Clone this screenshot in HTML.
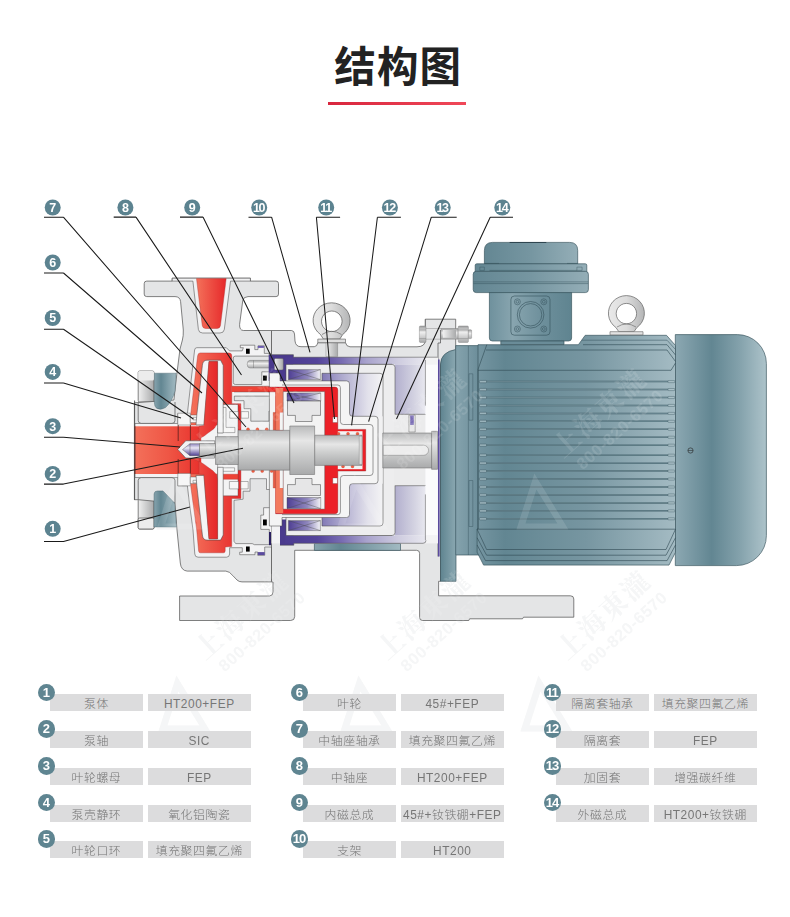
<!DOCTYPE html>
<html lang="zh-CN">
<head>
<meta charset="utf-8">
<title>结构图</title>
<style>
html,body{margin:0;padding:0;background:#fff;}
body{width:790px;height:917px;position:relative;overflow:hidden;font-family:"Liberation Sans","Noto Sans CJK SC",sans-serif;}
.title{position:absolute;left:0;top:36.5px;width:796.5px;text-align:center;font-size:41.5px;line-height:62px;font-weight:700;color:#222;letter-spacing:1.2px;}
.rule{position:absolute;left:328px;top:102px;width:138px;height:3px;background:linear-gradient(90deg,#d8263e,#f04858);}
#dg{position:absolute;left:0;top:0;}
.tb{position:absolute;left:0;top:0;}
.row{position:absolute;height:17px;}
.n{position:absolute;width:17.6px;height:17.6px;border-radius:50%;background:#5f8591;color:#fff;font-size:13px;font-weight:700;line-height:17.6px;text-align:center;left:-12px;top:-10.8px;z-index:2;letter-spacing:-1px;text-indent:-1px}
.c{position:absolute;top:0;height:17px;background:#dcdcdd;color:#767676;font-weight:300;font-size:11.9px;line-height:21.2px;text-align:center;letter-spacing:0.55px;overflow:hidden;white-space:nowrap;}
.c1{left:0;width:93.5px;}
.c2{left:98px;width:103.2px;}
</style>
</head>
<body>
<div class="title">结构图</div>
<div class="rule"></div>
<svg id="dg" width="790" height="917" viewBox="0 0 790 917">
<defs>
<linearGradient id="gTealBody" x1="0" x2="1" y1="0" y2="0">
 <stop offset="0" stop-color="#7595a1"/><stop offset="0.14" stop-color="#628692"/><stop offset="0.55" stop-color="#7796a1"/><stop offset="1" stop-color="#a4bbc3"/>
</linearGradient>
<linearGradient id="gTealFan" x1="0" x2="1" y1="0" y2="0">
 <stop offset="0" stop-color="#8ca8b2"/><stop offset="0.4" stop-color="#628692"/><stop offset="0.7" stop-color="#83a1ab"/><stop offset="1" stop-color="#adc3ca"/>
</linearGradient>
<linearGradient id="gTealBox" x1="0" x2="1" y1="0" y2="0">
 <stop offset="0" stop-color="#6f919d"/><stop offset="0.28" stop-color="#88a5af"/><stop offset="0.65" stop-color="#6d8f9b"/><stop offset="1" stop-color="#5f8490"/>
</linearGradient>
<linearGradient id="gTealCap" x1="0" x2="1" y1="0" y2="0">
 <stop offset="0" stop-color="#648793"/><stop offset="0.5" stop-color="#7696a1"/><stop offset="1" stop-color="#94aeb7"/>
</linearGradient>
<linearGradient id="gTealFl" x1="0" x2="1" y1="0" y2="0">
 <stop offset="0" stop-color="#5f8490"/><stop offset="0.35" stop-color="#86a4ae"/><stop offset="0.8" stop-color="#7494a0"/><stop offset="1" stop-color="#6a8c98"/>
</linearGradient>
<linearGradient id="gTealBar" x1="0" x2="1" y1="0" y2="0">
 <stop offset="0" stop-color="#86a3ad"/><stop offset="0.3" stop-color="#628692"/><stop offset="1" stop-color="#a2bac2"/>
</linearGradient>
<linearGradient id="gRed" x1="0" x2="1" y1="0" y2="0">
 <stop offset="0" stop-color="#f4715a"/><stop offset="1" stop-color="#e6282a"/>
</linearGradient>
<linearGradient id="gRedS" x1="0" x2="1" y1="0" y2="0">
 <stop offset="0" stop-color="#f3705a"/><stop offset="0.5" stop-color="#ef5645"/><stop offset="1" stop-color="#e9302c"/>
</linearGradient>
<linearGradient id="gPurpH" x1="0" x2="1" y1="0" y2="0">
 <stop offset="0" stop-color="#4a3a8d"/><stop offset="0.35" stop-color="#5f4fa0"/><stop offset="0.7" stop-color="#b7b2d2"/><stop offset="1" stop-color="#ececf2"/>
</linearGradient>
<linearGradient id="gLav" x1="0" x2="1" y1="0" y2="0">
 <stop offset="0" stop-color="#bdbad6"/><stop offset="0.55" stop-color="#e6e5ee"/><stop offset="1" stop-color="#fafafa"/>
</linearGradient>
<linearGradient id="gLav2" x1="0" x2="1" y1="0" y2="0">
 <stop offset="0" stop-color="#c2bfd9"/><stop offset="0.6" stop-color="#e9e8f0"/><stop offset="1" stop-color="#ffffff"/>
</linearGradient>
<linearGradient id="gMagX" x1="0" x2="1" y1="0" y2="0">
 <stop offset="0" stop-color="#4f3f94"/><stop offset="0.6" stop-color="#8f87bd"/><stop offset="1" stop-color="#f2f2f6"/>
</linearGradient>
<linearGradient id="gShaft" x1="0" x2="0" y1="0" y2="1">
 <stop offset="0" stop-color="#b9babb"/><stop offset="0.3" stop-color="#e6e6e6"/><stop offset="0.55" stop-color="#cfd0d0"/><stop offset="1" stop-color="#a9aaab"/>
</linearGradient>
<linearGradient id="gShaftV" x1="0" x2="1" y1="0" y2="0">
 <stop offset="0" stop-color="#f2f2f2"/><stop offset="1" stop-color="#9d9e9f"/>
</linearGradient>
<linearGradient id="gNutP" x1="0" x2="0" y1="0" y2="1">
 <stop offset="0" stop-color="#8f86bf"/><stop offset="0.35" stop-color="#e9e7f3"/><stop offset="1" stop-color="#4e3f93"/>
</linearGradient>
<linearGradient id="gRing" x1="0" x2="1" y1="0" y2="0">
 <stop offset="0" stop-color="#e9e9e9"/><stop offset="0.5" stop-color="#dcdcdc"/><stop offset="1" stop-color="#b4b5b6"/>
</linearGradient>
<linearGradient id="gBolt" x1="0" x2="0" y1="0" y2="1">
 <stop offset="0" stop-color="#9e9fa0"/><stop offset="0.4" stop-color="#ededed"/><stop offset="1" stop-color="#a8a9aa"/>
</linearGradient>
<linearGradient id="gBoxG" x1="0" x2="1" y1="0" y2="0">
 <stop offset="0" stop-color="#f0f0f0"/><stop offset="1" stop-color="#a9aaab"/>
</linearGradient>
</defs>

<g id="wmu" font-family="&quot;Liberation Sans&quot;,&quot;Noto Serif CJK SC&quot;,serif" font-weight="700" text-anchor="middle" style="pointer-events:none" fill="#7d8890" opacity="0.085">
<g><g transform="translate(606,420) rotate(-42)"><text x="0" y="0" font-size="27" letter-spacing="2">上海東瀧</text><text x="4" y="22" font-size="16.5" letter-spacing="0.6">800-820-6570</text></g><path transform="translate(542.4,501.4)" d="M-26,28 L-8,-28 L26,28 Z M-17,22 L-6,-12 L15,22 Z" fill-rule="evenodd"/></g>
<g><g transform="translate(426,420) rotate(-42)"><text x="0" y="0" font-size="27" letter-spacing="2">上海東瀧</text><text x="4" y="22" font-size="16.5" letter-spacing="0.6">800-820-6570</text></g><path transform="translate(362.4,501.4)" d="M-26,28 L-8,-28 L26,28 Z M-17,22 L-6,-12 L15,22 Z" fill-rule="evenodd"/></g>
<g><g transform="translate(246,420) rotate(-42)"><text x="0" y="0" font-size="27" letter-spacing="2">上海東瀧</text><text x="4" y="22" font-size="16.5" letter-spacing="0.6">800-820-6570</text></g><path transform="translate(182.4,501.4)" d="M-26,28 L-8,-28 L26,28 Z M-17,22 L-6,-12 L15,22 Z" fill-rule="evenodd"/></g>
<g><g transform="translate(248,622) rotate(-42)"><text x="0" y="0" font-size="27" letter-spacing="2">上海東瀧</text><text x="4" y="22" font-size="16.5" letter-spacing="0.6">800-820-6570</text></g><path transform="translate(184.4,703.4)" d="M-26,28 L-8,-28 L26,28 Z M-17,22 L-6,-12 L15,22 Z" fill-rule="evenodd"/></g>
<g><g transform="translate(430,622) rotate(-42)"><text x="0" y="0" font-size="27" letter-spacing="2">上海東瀧</text><text x="4" y="22" font-size="16.5" letter-spacing="0.6">800-820-6570</text></g><path transform="translate(366.4,703.4)" d="M-26,28 L-8,-28 L26,28 Z M-17,22 L-6,-12 L15,22 Z" fill-rule="evenodd"/></g>
<g><g transform="translate(610,622) rotate(-42)"><text x="0" y="0" font-size="27" letter-spacing="2">上海東瀧</text><text x="4" y="22" font-size="16.5" letter-spacing="0.6">800-820-6570</text></g><path transform="translate(546.4,703.4)" d="M-26,28 L-8,-28 L26,28 Z M-17,22 L-6,-12 L15,22 Z" fill-rule="evenodd"/></g>
</g>
<g id="bracket" stroke="#4e4e4e" stroke-width="0.7" stroke-linejoin="round" fill="#e4e5e6">
 <!-- bracket body silhouette incl. feet -->
 <path d="M271.5,330.5 H291.5 Q294.3,330.8 294.5,334 L295,341 Q295.6,346.7 301,346.7 H314.3 Q317.2,346.5 317.8,342.7 H345.5 Q346.3,346.6 350,346.8 H417 Q425.3,346.8 425.3,340 V319.2 H455.7 V352 Q441,354 440.5,366 V581.3 H438.6 V595.8 H570.5 Q573.8,595.8 573.8,599 V617.2 H523.5 L522.5,618.8 H469.6 L468.8,620.5 H422.6 Q419.6,620.5 419.6,617.5 V553.3 Q419.6,550.3 416.6,550.3 H294.7 V616.5 Q294.7,620.5 290.7,620.5 H179.6 V596 H269.5 Q273,595.8 273,592 V582 H271.5 Z"/>
 <!-- vertical split between motor flange & bracket flange -->
 <path d="M440.5,330 V343 H438 V556.5" fill="none"/>
 <path d="M425.3,319.2 V342" fill="none" stroke-width="0.4"/>
 <!-- bolt -->
 <g stroke="#777" stroke-width="0.4">
 <path d="M426,328.5 H441 M426,339.2 H441" fill="none"/>
 <rect x="441" y="328.5" width="17.2" height="10.7" fill="url(#gBolt)"/><rect x="443" y="330" width="13" height="7.7" fill="url(#gBoxG)" stroke="none"/>
 <rect x="419.4" y="326" width="6.6" height="16.4" rx="1" fill="url(#gBolt)"/>
 <rect x="458.2" y="326" width="10.2" height="16.4" rx="1" fill="url(#gBolt)"/>
 <rect x="468.4" y="329.8" width="3.2" height="8.8" rx="0.8" fill="url(#gBolt)"/>
 <path d="M419.4,330 H426 M419.4,338.6 H426 M458.2,330 H468.4 M458.2,338.6 H468.4" fill="none"/>
 </g>
 <!-- teal bar bottom -->
 <rect x="314.4" y="543.5" width="86.1" height="6.9" fill="url(#gTealBar)" stroke="#3f5a64"/>
 <!-- eyebolt 1 -->
 <g stroke="#6b6b6b">
 <rect x="326" y="342.7" width="11.6" height="14" fill="url(#gBoxG)" stroke-width="0.4"/>
 <path d="M323.4,339.1 L320.5,334.5 A18.5,17.6 0 1 1 342.7,334.5 L339.8,339.1 Z M331.8,311 a10.3,10.3 0 1 1 -0.01,0 Z" fill="url(#gRing)" fill-rule="evenodd" stroke="#555"/>
 <path d="M322,334.5 Q331.6,328 341.5,334.5" fill="none"/>
 <rect x="317.8" y="339.1" width="27.7" height="3.6" fill="#dedede"/>
 </g>
</g>

<g id="motor" stroke="#34505a" stroke-width="0.65" stroke-linejoin="round">
 <!-- fan cover -->
 <path d="M675.3,334.6 H737.4 A29,29 0 0 1 766.4,363.6 V535.6 A30,30 0 0 1 736.4,565.6 H675.3 Z" fill="url(#gTealFan)"/>
 <!-- flange / end bell -->
 <path d="M440.5,581.3 V364 Q441,352 455.7,349.5 V345.6 H480 V555 H456 V581.3 Z" fill="url(#gTealFl)"/>
 <!-- main body -->
 <path d="M478,344.7 H578.4 L585.2,335.3 H666.5 L675.5,345.5 V552.2 L669,565.1 H483.6 L477.1,552.2 V529 H478 Z" fill="url(#gTealBody)"/>
 <line x1="455.7" y1="350" x2="455.7" y2="555"/>
 <line x1="468.4" y1="346" x2="468.4" y2="555" stroke-width="0.4"/>
 <rect x="469" y="373.8" width="3.8" height="46.4" fill="none" stroke-width="0.4"/>
 <rect x="469" y="480.5" width="3.8" height="46" fill="none" stroke-width="0.4"/>
 <path d="M486.8,344.7 L478,369.4 V529" fill="none"/>
 <path d="M478,370.3 H671 L675.5,363 M486,350 H667 L675.5,361.5 M583,344.7 H667 L675.5,355" fill="none"/>
 <path d="M581.8,340.2 H667 L675.5,349.5" fill="none" stroke-width="0.5"/>
 <!-- fins -->
 <g id="fins" fill="none">
<path d="M486,445.20 H668.5" stroke="#435f69" stroke-width="1.5"/><path d="M487,445.20 H668" stroke="#85a3ad" stroke-width="0.6"/><rect x="479.4" y="444.05" width="7.2" height="2.3" rx="0.8" stroke="#3c5862" stroke-width="0.45" fill="#9ab3bb"/><rect x="668" y="444.15" width="6.8" height="2.1" rx="0.6" stroke="#3c5862" stroke-width="0.4" fill="#a9bfc6"/>
<path d="M486,455.20 H668.5" stroke="#435f69" stroke-width="1.5"/><path d="M487,455.20 H668" stroke="#85a3ad" stroke-width="0.6"/><rect x="479.4" y="454.05" width="7.2" height="2.3" rx="0.8" stroke="#3c5862" stroke-width="0.45" fill="#9ab3bb"/><rect x="668" y="454.15" width="6.8" height="2.1" rx="0.6" stroke="#3c5862" stroke-width="0.4" fill="#a9bfc6"/>
<path d="M486,437.25 H668.5" stroke="#435f69" stroke-width="1.5"/><path d="M487,437.25 H668" stroke="#85a3ad" stroke-width="0.6"/><rect x="479.4" y="436.10" width="7.2" height="2.3" rx="0.8" stroke="#3c5862" stroke-width="0.45" fill="#9ab3bb"/><rect x="668" y="436.20" width="6.8" height="2.1" rx="0.6" stroke="#3c5862" stroke-width="0.4" fill="#a9bfc6"/>
<path d="M486,463.15 H668.5" stroke="#435f69" stroke-width="1.5"/><path d="M487,463.15 H668" stroke="#85a3ad" stroke-width="0.6"/><rect x="479.4" y="462.00" width="7.2" height="2.3" rx="0.8" stroke="#3c5862" stroke-width="0.45" fill="#9ab3bb"/><rect x="668" y="462.10" width="6.8" height="2.1" rx="0.6" stroke="#3c5862" stroke-width="0.4" fill="#a9bfc6"/>
<path d="M486,429.30 H668.5" stroke="#435f69" stroke-width="1.5"/><path d="M487,429.30 H668" stroke="#85a3ad" stroke-width="0.6"/><rect x="479.4" y="428.15" width="7.2" height="2.3" rx="0.8" stroke="#3c5862" stroke-width="0.45" fill="#9ab3bb"/><rect x="668" y="428.25" width="6.8" height="2.1" rx="0.6" stroke="#3c5862" stroke-width="0.4" fill="#a9bfc6"/>
<path d="M486,471.10 H668.5" stroke="#435f69" stroke-width="1.5"/><path d="M487,471.10 H668" stroke="#85a3ad" stroke-width="0.6"/><rect x="479.4" y="469.95" width="7.2" height="2.3" rx="0.8" stroke="#3c5862" stroke-width="0.45" fill="#9ab3bb"/><rect x="668" y="470.05" width="6.8" height="2.1" rx="0.6" stroke="#3c5862" stroke-width="0.4" fill="#a9bfc6"/>
<path d="M486,421.35 H668.5" stroke="#435f69" stroke-width="1.5"/><path d="M487,421.35 H668" stroke="#85a3ad" stroke-width="0.6"/><rect x="479.4" y="420.20" width="7.2" height="2.3" rx="0.8" stroke="#3c5862" stroke-width="0.45" fill="#9ab3bb"/><rect x="668" y="420.30" width="6.8" height="2.1" rx="0.6" stroke="#3c5862" stroke-width="0.4" fill="#a9bfc6"/>
<path d="M486,479.05 H668.5" stroke="#435f69" stroke-width="1.5"/><path d="M487,479.05 H668" stroke="#85a3ad" stroke-width="0.6"/><rect x="479.4" y="477.90" width="7.2" height="2.3" rx="0.8" stroke="#3c5862" stroke-width="0.45" fill="#9ab3bb"/><rect x="668" y="478.00" width="6.8" height="2.1" rx="0.6" stroke="#3c5862" stroke-width="0.4" fill="#a9bfc6"/>
<path d="M486,413.40 H668.5" stroke="#435f69" stroke-width="1.5"/><path d="M487,413.40 H668" stroke="#85a3ad" stroke-width="0.6"/><rect x="479.4" y="412.25" width="7.2" height="2.3" rx="0.8" stroke="#3c5862" stroke-width="0.45" fill="#9ab3bb"/><rect x="668" y="412.35" width="6.8" height="2.1" rx="0.6" stroke="#3c5862" stroke-width="0.4" fill="#a9bfc6"/>
<path d="M486,487.00 H668.5" stroke="#435f69" stroke-width="1.5"/><path d="M487,487.00 H668" stroke="#85a3ad" stroke-width="0.6"/><rect x="479.4" y="485.85" width="7.2" height="2.3" rx="0.8" stroke="#3c5862" stroke-width="0.45" fill="#9ab3bb"/><rect x="668" y="485.95" width="6.8" height="2.1" rx="0.6" stroke="#3c5862" stroke-width="0.4" fill="#a9bfc6"/>
<path d="M486,405.45 H668.5" stroke="#435f69" stroke-width="1.5"/><path d="M487,405.45 H668" stroke="#85a3ad" stroke-width="0.6"/><rect x="479.4" y="404.30" width="7.2" height="2.3" rx="0.8" stroke="#3c5862" stroke-width="0.45" fill="#9ab3bb"/><rect x="668" y="404.40" width="6.8" height="2.1" rx="0.6" stroke="#3c5862" stroke-width="0.4" fill="#a9bfc6"/>
<path d="M486,494.95 H668.5" stroke="#435f69" stroke-width="1.5"/><path d="M487,494.95 H668" stroke="#85a3ad" stroke-width="0.6"/><rect x="479.4" y="493.80" width="7.2" height="2.3" rx="0.8" stroke="#3c5862" stroke-width="0.45" fill="#9ab3bb"/><rect x="668" y="493.90" width="6.8" height="2.1" rx="0.6" stroke="#3c5862" stroke-width="0.4" fill="#a9bfc6"/>
<path d="M486,397.50 H668.5" stroke="#435f69" stroke-width="1.5"/><path d="M487,397.50 H668" stroke="#85a3ad" stroke-width="0.6"/><rect x="479.4" y="396.35" width="7.2" height="2.3" rx="0.8" stroke="#3c5862" stroke-width="0.45" fill="#9ab3bb"/><rect x="668" y="396.45" width="6.8" height="2.1" rx="0.6" stroke="#3c5862" stroke-width="0.4" fill="#a9bfc6"/>
<path d="M486,502.90 H668.5" stroke="#435f69" stroke-width="1.5"/><path d="M487,502.90 H668" stroke="#85a3ad" stroke-width="0.6"/><rect x="479.4" y="501.75" width="7.2" height="2.3" rx="0.8" stroke="#3c5862" stroke-width="0.45" fill="#9ab3bb"/><rect x="668" y="501.85" width="6.8" height="2.1" rx="0.6" stroke="#3c5862" stroke-width="0.4" fill="#a9bfc6"/>
<path d="M486,389.55 H668.5" stroke="#435f69" stroke-width="1.5"/><path d="M487,389.55 H668" stroke="#85a3ad" stroke-width="0.6"/><rect x="479.4" y="388.40" width="7.2" height="2.3" rx="0.8" stroke="#3c5862" stroke-width="0.45" fill="#9ab3bb"/><rect x="668" y="388.50" width="6.8" height="2.1" rx="0.6" stroke="#3c5862" stroke-width="0.4" fill="#a9bfc6"/>
<path d="M486,510.85 H668.5" stroke="#435f69" stroke-width="1.5"/><path d="M487,510.85 H668" stroke="#85a3ad" stroke-width="0.6"/><rect x="479.4" y="509.70" width="7.2" height="2.3" rx="0.8" stroke="#3c5862" stroke-width="0.45" fill="#9ab3bb"/><rect x="668" y="509.80" width="6.8" height="2.1" rx="0.6" stroke="#3c5862" stroke-width="0.4" fill="#a9bfc6"/>
<path d="M486,381.60 H668.5" stroke="#435f69" stroke-width="1.5"/><path d="M487,381.60 H668" stroke="#85a3ad" stroke-width="0.6"/><rect x="479.4" y="380.45" width="7.2" height="2.3" rx="0.8" stroke="#3c5862" stroke-width="0.45" fill="#9ab3bb"/><rect x="668" y="380.55" width="6.8" height="2.1" rx="0.6" stroke="#3c5862" stroke-width="0.4" fill="#a9bfc6"/>
<path d="M486,518.80 H668.5" stroke="#435f69" stroke-width="1.5"/><path d="M487,518.80 H668" stroke="#85a3ad" stroke-width="0.6"/><rect x="479.4" y="517.65" width="7.2" height="2.3" rx="0.8" stroke="#3c5862" stroke-width="0.45" fill="#9ab3bb"/><rect x="668" y="517.75" width="6.8" height="2.1" rx="0.6" stroke="#3c5862" stroke-width="0.4" fill="#a9bfc6"/>
 </g>
 <!-- base steps -->
 <path d="M477.1,529.2 H675.5 M477.1,529.2 L486.6,549.5 H666 L675.5,529.2 M477.1,537.8 L486.6,555.2 H666 L675.5,537.8 M477.1,545 L485.5,560.6 H667.1 L675.5,545" fill="none" stroke-width="0.6" stroke="#2f4852"/>
 <!-- junction box -->
 <path d="M489.4,292 H571.6 V338 Q571.6,341 568.6,341 H492.4 Q489.4,341 489.4,338 Z" fill="url(#gTealBox)"/>
 <rect x="500.8" y="341" width="63.2" height="3.6" fill="#6a8c98"/>
 <path d="M484.4,264 V250.5 Q484.4,242.4 492.5,242.4 H569.6 Q577.7,242.4 577.7,250.5 V264 Z" fill="url(#gTealCap)"/>
 <line x1="509.6" y1="242.5" x2="546.3" y2="242.5" stroke="#2f4650" stroke-width="1.1"/>
 <path d="M476.7,263.8 H585.3 Q586.8,263.8 586.8,265.3 V271.5 H475.2 V265.3 Q475.2,263.8 476.7,263.8 Z" fill="url(#gTealCap)"/>
 <rect x="473.2" y="271.3" width="115.2" height="21.3" rx="3" fill="url(#gTealCap)"/>
 <path d="M473.4,281.9 H588.2 M473.4,283.6 H588.2 M489.5,270.4 H577 M484.4,263.4 H499 M567,263.4 H577.7" fill="none" stroke-width="0.45"/>
 <rect x="479.8" y="267.1" width="4.6" height="3.3" fill="none" stroke-width="0.4"/>
 <rect x="576.9" y="267.1" width="5.2" height="3.3" fill="none" stroke-width="0.4"/>
 <rect x="510.9" y="296" width="39.1" height="39.2" rx="3.5" fill="none" stroke-width="0.6"/>
 <circle cx="530.6" cy="314.8" r="13.3" fill="none" stroke-width="0.6"/>
 <circle cx="530.6" cy="314.8" r="11.2" fill="none" stroke-width="0.6"/>
 <g fill="none" stroke-width="0.5"><circle cx="517.4" cy="301.8" r="3"/><circle cx="543.8" cy="301.8" r="3"/><circle cx="517.4" cy="329" r="3"/><circle cx="543.8" cy="329" r="3"/>
 <circle cx="517.4" cy="301.8" r="1.4"/><circle cx="543.8" cy="301.8" r="1.4"/><circle cx="517.4" cy="329" r="1.4"/><circle cx="543.8" cy="329" r="1.4"/></g>
 <!-- small screw on fan cover -->
 <circle cx="690.5" cy="450.5" r="2.6" fill="none" stroke="#222" stroke-width="0.6"/><line x1="688" y1="450.5" x2="693" y2="450.5" stroke="#222" stroke-width="0.5"/>
 <!-- eyebolt 2 -->
 <g stroke="#6b6b6b">
 <path d="M618.8,331.7 L615.9,327.5 A18,17.6 0 1 1 636.9,327.5 L634,331.7 Z M626.4,303.4 a10.2,10.2 0 1 1 -0.01,0 Z" fill="url(#gRing)" fill-rule="evenodd" stroke="#555"/>
 <path d="M617,327 Q626.4,321 636,327" fill="none"/>
 <rect x="610" y="331.7" width="33" height="3.2" fill="#e2e2e2"/>
 </g>
</g>

<g id="casing" stroke="#4e4e4e" stroke-width="0.7" stroke-linejoin="round" fill="#e4e5e6">
 <!-- bolt boxes on suction flange -->
 <rect x="138.2" y="371" width="15.8" height="31" rx="1.5" fill="url(#gBoxG)"/>
 <rect x="138.2" y="371" width="15.8" height="9.5" rx="1.5" fill="#ececec" stroke="none"/>
 <rect x="138.2" y="499" width="15.8" height="30" rx="1.5" fill="url(#gBoxG)"/>
 <rect x="138.2" y="518" width="15.8" height="11" rx="1.5" fill="#ececec"/>
 <!-- casing silhouette -->
 <path d="M172.2,281.1 H146.7 Q144.2,281.1 144.2,283.6 V294.1 Q144.2,296.6 146.7,296.6 H175 Q180,296.6 180.6,301.6 L183.3,330 Q183.5,336 182.4,340 L180,349 L176.8,374.3 L173.9,400 L134.4,402.8 V499.7 H138.2 L175,503 L177,530 L180.3,563 Q181,570.5 187.2,571.1 H225.8 Q229.5,571.3 232.8,575.6 L237,580 Q239,581.9 242,581.9 H271.5 V330.5 H243.4 Q239.3,330.3 239.6,324.4 L242.8,300.4 Q243.5,296.8 248,296.6 H276 Q278.5,296.6 278.5,294.1 V283.6 Q278.5,281.1 276,281.1 H250.4 V278.2 H172.2 Z"/>
 <path d="M134.6,400.5 V500" fill="none" stroke="#5a5a5a" stroke-width="1"/>
 <!-- flange inner outlines -->
 <path d="M138.2,402.8 V420.4 Q138.2,423.4 141.2,423.4 H172 Q175,423.4 175,420.4 V402" fill="none"/>
 <path d="M138.2,499.7 V480.6 Q138.2,477.6 141.2,477.6 H172 Q175,477.6 175,480.6 V503" fill="none"/>
 <!-- teal blobs -->
 <path d="M154.4,373.2 H176.1 L175.1,390.4 Q173,400.5 165.5,407.6 Q160.5,410.8 156.5,408.2 Q154.4,406.5 154.4,403 Z" fill="url(#gTealBar)" stroke="#3f5a64" stroke-width="0.4"/>
 <path d="M154,527 V494 Q154.3,491 157.5,490.9 H163 L174.5,503 L176.5,527 Z" fill="url(#gTealBar)" stroke="#3f5a64" stroke-width="0.4"/>
</g>

<g id="volute" stroke="#4a4a4a" stroke-width="0.55" stroke-linejoin="round">
 <!-- discharge liner + red -->
 <path d="M172.2,278.2 H250.4 V281.1 H230.5 L224.3,329.5 Q223.8,333 220,333 H202.6 Q198.9,333 198.4,329.5 L192.9,281.1 H172.2 Z" fill="#f1f1f2"/>
 <path d="M196.5,278.6 H226.2 L220.5,325.2 Q220,328.5 217,328.5 H205.7 Q202.7,328.5 202.2,325.2 Z" fill="url(#gRed)" stroke="#a33" stroke-width="0.4"/>
 <!-- liner (white) covering volute + seat region -->
 <path d="M196.8,347.7 H226.3 L229.5,350.9 H242.2 L243.4,347.7 H240.3 V345.2 H254.8 V349.6 H258 V345.8 H264.3 V353.4 H271.5 V547 H264.7 V555.3 H257.7 V552 H255 V554.7 H239.7 V552.2 H242.3 V547.7 H229.6 V554 Q229.4,557.2 226.5,557.2 H198 Q195,557.2 194.8,554 L193,530 L189,500 L187.4,485.8 H177.8 V477.5 H135 V423.5 H177.8 V413.7 H187.4 L188.9,400 L194.6,350 Q194.9,347.7 196.8,347.7 Z" fill="#f3f3f4"/>
 <!-- suction red -->
 <rect x="135.2" y="426.3" width="66" height="47.7" fill="url(#gRedS)" stroke="none"/>
 <!-- volute red region upper -->
 <path d="M200.3,352.9 H229 Q231.8,352.9 231.8,356 V403.7 H240.9 V430.3 H237.3 V410.8 H231.8 L226,425 H190.8 L190.8,413.5 L197.6,356 Q198,352.9 200.3,352.9 Z" fill="url(#gRed)" stroke="#a33" stroke-width="0.4"/>
 <!-- volute red region lower -->
 <path d="M190.8,474 H226 L231.8,489 H237.3 V470 H240.9 V498.5 H231.7 V546.5 L225.2,547 V550.9 Q225,552.8 223.3,552.8 H200.5 Q198.8,552.8 198.6,550.9 L196.7,530 L190.8,486.5 Z" fill="url(#gRed)" stroke="#a33" stroke-width="0.4"/>
 <!-- horizontal red bands -->
 <rect x="231.8" y="386.2" width="44" height="5.8" fill="#ee4236" stroke="none"/>
 <path d="M231.8,386.2 H275.6 M234,392 H275.6" fill="none" stroke-width="0.4"/>
 <rect x="217.8" y="474.2" width="20" height="5.1" fill="#ee4236" stroke="none"/>
</g>

<g id="seat" stroke="#4a4a4a" stroke-width="0.55" stroke-linejoin="round" fill="#e3e4e5">
 <!-- upper seat block A -->
 <path d="M235.3,356.1 H270.6 V371.8 H261.8 V384.5 H235.3 Q233.3,384.5 233.3,382.5 V358.1 Q233.3,356.1 235.3,356.1 Z"/>
 <!-- upper bearing housing B -->
 <path d="M234.3,396.1 H273 V411 H269 V421.2 H250.8 V408.7 H244 V400.7 H234.3 Z"/>
 <!-- lower big block -->
 <path d="M234,500.3 L243.1,499.2 V491.2 H250 V478.7 H266.5 V489.5 H272.2 V507.7 H263.6 V515.1 H260.8 V529.4 H269.3 V544.7 H254.5 L252.2,543.6 H235.7 L234,541.3 Z"/>
 <!-- seals (black) -->
 <g fill="#000" stroke="none">
 <rect x="246" y="348.7" width="3.7" height="5.1"/><rect x="263" y="375.6" width="3.8" height="5"/>
 <rect x="263" y="519.5" width="3.8" height="5.9"/><rect x="246" y="546.5" width="3.7" height="5.1"/>
 </g>
 <rect x="257.9" y="552.1" width="6.8" height="3" fill="#5a4a9e" stroke="none"/>
 <rect x="257.9" y="345.9" width="6" height="2" fill="#6a5aae" stroke="none"/>
</g>

<g id="impeller" stroke="#4a4a4a" stroke-width="0.55" stroke-linejoin="round">
 <!-- wear rings (white) -->
 <g fill="#f6f6f6" stroke-width="0.4">
 <rect x="177.8" y="413.2" width="12.5" height="11.8"/><rect x="190.3" y="415" width="8.6" height="7.6"/>
 <rect x="177.8" y="473.4" width="12.5" height="12.4"/><rect x="190.3" y="477" width="8.6" height="6.6"/>
 <rect x="193" y="417.3" width="4" height="2.6"/><rect x="193" y="480.3" width="4" height="2.6"/>
 </g>
 <!-- hub plate -->
 <rect x="217.6" y="404.5" width="20.4" height="91.3" fill="#f3f3f4" stroke-width="0.4"/>
 <!-- small white boxes -->
 <g fill="#f7f7f7" stroke-width="0.4">
 <rect x="229.7" y="411.6" width="8.6" height="6.6"/><rect x="241.2" y="411.6" width="7.3" height="6.6"/>
 <rect x="229.4" y="481.5" width="9.1" height="7.4"/><rect x="240.8" y="481.5" width="7.4" height="7.4"/>
 <rect x="221.5" y="467.8" width="13.1" height="3.5"/>
 <path d="M221.4,407.5 H226 V427.4 H234.9 V432.6 H221.4 Z"/>
 </g>
 <rect x="217.8" y="474.2" width="20.2" height="5.1" fill="#ee4236" stroke="#a33" stroke-width="0.35"/>
 <!-- white U upper -->
 <path id="uU" d="M196.8,414.9 L202.4,365.3 Q202.8,360.2 207,360.2 H220.6 L223.2,365.3 V433 H217.6 V361.4 H209 L205.4,405.8 L203.9,424.9 H196 Z" fill="#f4f4f5"/>
 <!-- white U lower (mirror about y=450.15) -->
 <path d="M196.8,485.4 L202.4,535 Q202.8,540.1 207,540.1 H220.6 L223.2,535 V467.3 H217.6 V538.9 H209 L205.4,494.5 L203.9,475.4 H196 Z" fill="#f4f4f5"/>
 <!-- red passages -->
 <path d="M209,361.6 H217.4 V420 C217.4,428 212,430 208,433 C204,436.5 198,440.3 188,441.2 H186 L178,449.4 L186,458 H188 C198,460 204,463.8 208,467.3 C212,470.3 217.4,472.3 217.4,480.3 V538.7 H209 L205.6,494.5 L204.1,474.5 L199,474 V426.3 L204.1,425.5 L205.6,405.8 Z" fill="url(#gRed)" stroke="#a33" stroke-width="0.35"/>
 <!-- dashed wear ring lines -->
 <path d="M178.2,425 V441 M178.2,459 V473.4 M190.4,425 V473.4" stroke="#6a2620" stroke-width="0.9" fill="none"/>
 <path d="M135,426.3 V474" fill="none" stroke="#6a2620" stroke-width="1"/>
 <!-- nut -->
 <path d="M177.8,449.4 L185.7,440.8 H214.8 V458 H185.7 Z" fill="#f2f2f3"/>
 <path d="M182.5,449.6 L190,443.7 H199.5 V455.7 H190 Z" fill="url(#gNutP)" stroke-width="0.4"/>
 <line x1="190" y1="443.7" x2="190" y2="455.7" stroke-width="0.4"/>
 <rect x="199.5" y="443.5" width="16" height="12.6" fill="url(#gShaft)" stroke-width="0.4"/>
</g>

<g id="pin" stroke="#666" stroke-width="0.4">
 <path d="M250,360.4 H274.4 V368 H250 Q247.2,368 247.2,364.2 Q247.2,360.4 250,360.4 Z" fill="url(#gBolt)"/>
 <line x1="253.5" y1="360.4" x2="253.5" y2="368"/>
</g>

<g id="coupling" stroke="#4a4a4a" stroke-width="0.55" stroke-linejoin="round">
 <defs>
 <linearGradient id="uPurp" gradientUnits="userSpaceOnUse" x1="268" x2="432" y1="0" y2="0">
  <stop offset="0" stop-color="#47378b"/><stop offset="0.3" stop-color="#54449a"/><stop offset="0.45" stop-color="#786cb2"/><stop offset="0.6" stop-color="#a8a2cc"/><stop offset="0.8" stop-color="#cfcde0"/><stop offset="1" stop-color="#eeeef3"/>
 </linearGradient>
 <linearGradient id="uLavR" gradientUnits="userSpaceOnUse" x1="396" x2="426" y1="0" y2="0">
  <stop offset="0" stop-color="#b4b1cf"/><stop offset="0.6" stop-color="#d3d2e1"/><stop offset="1" stop-color="#e9e9f0"/>
 </linearGradient>
 <linearGradient id="uLavL" gradientUnits="userSpaceOnUse" x1="322" x2="383" y1="0" y2="0">
  <stop offset="0" stop-color="#8279b6"/><stop offset="0.35" stop-color="#b1add0"/><stop offset="0.75" stop-color="#e2e1eb"/><stop offset="1" stop-color="#f4f4f5"/>
 </linearGradient>
 </defs>
 <!-- interior base (white-ish) -->
 <rect x="271.5" y="356.8" width="166.5" height="186.6" fill="#f3f3f4" stroke="none"/>
 <!-- right web (lavender -> white) -->
 <rect x="395" y="364.4" width="42.5" height="171.1" fill="url(#uLavR)" stroke="none"/>
 <!-- purple bands -->
 <rect x="268.7" y="354.7" width="24.7" height="26.3" fill="#4a3a8d" stroke="none"/>
 <rect x="285" y="357.2" width="141" height="7.2" fill="url(#uPurp)" stroke="none"/>
 <rect x="280" y="519.5" width="13.8" height="25.7" fill="#4a3a8d" stroke="none"/>
 <path d="M285,535.5 H426 V540.3 Q426,543.3 423,543.3 H285 Z" fill="url(#uPurp)" stroke="none"/>
 <path d="M268.7,354.7 H293.4 V357.2 H438 M293.4,364.4 H392 M280,545.2 H293.8 V543.3 H423 Q426,543.3 426,540.3 M293.8,535.5 H392" fill="none"/>
 <rect x="269" y="532" width="2" height="13.2" fill="#2b2060" stroke="none"/>
 <!-- thin purple line along motor face -->
 <rect x="438" y="359.5" width="1.6" height="197" fill="#5a4a9e" stroke="none"/>
 <!-- carrier inner wall -->
 <path d="M286,364.4 H392 Q395,364.4 395,367.4 V532.5 Q395,535.5 392,535.5 H286 Z" fill="#ededee"/>
 <!-- hub and right-hand details -->
 <rect x="394" y="414.5" width="3" height="71" fill="#ebebec" stroke="none"/><path d="M395,414.3 H424.8 Q427.8,414.3 427.8,417.3 V482.7 Q427.8,485.7 424.8,485.7 H395" fill="#ebebec"/>
 <rect x="425.4" y="364.4" width="12.4" height="171" fill="#fbfbfc" stroke="none"/><path d="M425.4,360 V405.6 M425.4,494.4 V540" fill="none" stroke-width="0.5"/>
 <rect x="408.9" y="415" width="6.3" height="17" fill="#e8e8e8" stroke-width="0.4"/>
 <rect x="410.2" y="415.4" width="3.6" height="9.5" fill="#7a6db5" stroke="none"/>
 <!-- outer magnets -->
 <g stroke-width="0.4">
 <rect x="288.4" y="369.6" width="32" height="10" fill="url(#gMagX)"/><path d="M288.4,369.6 L320.4,379.6 M288.4,379.6 L320.4,369.6" fill="none"/>
 <rect x="288.4" y="520.6" width="32" height="10" fill="url(#gMagX)"/><path d="M288.4,520.6 L320.4,530.6 M288.4,530.6 L320.4,520.6" fill="none"/>
 </g>
 <!-- reinforcement sleeve (lavender) -->
 <path d="M322,373.3 H380 Q383,373.3 383,376.3 V523 Q383,526 380,526 H322 Z" fill="url(#uLavL)"/>
 <rect x="378.3" y="416.3" width="4.4" height="67.4" fill="#f1f1f2" stroke="none"/>
 <!-- isolation sleeve (white) outer -->
 <path d="M269.4,373 H280 V380.9 H346.5 Q349.5,380.9 349.5,383.9 V413.3 Q349.5,416.3 352.5,416.3 H375 Q378,416.3 378,419.3 V480.7 Q378,483.7 375,483.7 H352.5 Q349.5,483.7 349.5,486.7 V514.5 Q349.5,517.5 346.5,517.5 H282 V526 H269.4 Z" fill="#f4f4f4"/>
 <!-- sleeve inner outline -->
 <path d="M282,385 H337.8 Q340.4,385 340.4,387.6 V421.5 Q340.4,424.5 343.4,424.5 H370 Q373,424.5 373,427.5 V472.5 Q373,475.5 370,475.5 H343.4 Q340.4,475.5 340.4,478.5 V512 Q340.4,514.6 337.8,514.6 H282" fill="#f6f6f6"/>
</g>

<g id="rotor" stroke="#4a4a4a" stroke-width="0.55" stroke-linejoin="round">
 <!-- red loop inside isolation sleeve -->
 <path d="M275.6,387.1 H335 Q337.8,387.1 337.8,390 V429.4 H365.7 V471 H337.8 V511 Q337.8,513.7 335,513.7 H275.6 Z" fill="#ec2027" stroke="#8a1a1c" stroke-width="0.4"/>
 <rect x="268" y="387.1" width="8" height="4.7" fill="#ec2c2a" stroke="none"/><path d="M268,387.1 H276 M268,391.8 H275.6" fill="none" stroke="#8a1a1c" stroke-width="0.4"/>
 <!-- orange left vertical -->
 <path d="M275.6,388 H283.2 V412.4 H279.7 V430.3 H275.6 Z" fill="#f37a5e" stroke="none"/>
 <path d="M275.6,470 H279.7 V488 H283.2 V513 H275.6 Z" fill="#f37a5e" stroke="none"/>
 <rect x="273.2" y="412.4" width="2.4" height="18" fill="#e65a44" stroke="#9a3a2c" stroke-width="0.3"/><rect x="273.2" y="470" width="2.4" height="18" fill="#e65a44" stroke="#9a3a2c" stroke-width="0.3"/><rect x="279.7" y="412.4" width="3.5" height="18" fill="#f4f4f4" stroke="none"/><rect x="279.7" y="470" width="3.5" height="18" fill="#f4f4f4" stroke="none"/>
 <!-- inner white of nose, between red and shaft -->
 <rect x="337.8" y="431.2" width="24.7" height="38" fill="#f4f4f4" stroke="none"/>
 <rect x="332.8" y="417" width="4.6" height="5.5" fill="#fff" stroke-width="0.3"/>
 <rect x="332.8" y="478" width="4.6" height="5.5" fill="#fff" stroke-width="0.3"/>
 <!-- inner rotor frame -->
 <rect x="283.2" y="391.6" width="41.5" height="117.5" fill="#f3f3f3" stroke-width="0.4"/>
 <!-- magnets inner -->
 <g stroke-width="0.4">
 <rect x="287" y="393" width="33.7" height="8" fill="url(#gMagX)"/><path d="M287,393 L320.7,401 M287,401 L320.7,393" fill="none"/>
 <rect x="287" y="497.5" width="33.7" height="11" fill="url(#gMagX)"/><path d="M287,497.5 L320.7,508.5 M287,508.5 L320.7,497.5" fill="none"/>
 </g>
 <path d="M287.5,401 H320.5 V415.4 H312 V421.5 H295.4 V415.4 H287.5 Z" fill="#e6e6e7"/>
 <path d="M287.5,495.5 H320.5 V484.6 H312 V478.5 H295.4 V484.6 H287.5 Z" fill="#e6e6e7"/>
 <!-- spring coils -->
 <g fill="#f2603f" stroke="#b33" stroke-width="0.3">
 <circle cx="248" cy="429.3" r="1.5"/><circle cx="257.4" cy="429.3" r="1.5"/><circle cx="266.8" cy="429.3" r="1.5"/>
 <circle cx="253.1" cy="471" r="1.5"/><circle cx="262.2" cy="471" r="1.5"/><circle cx="271.6" cy="471" r="1.5"/>
 <circle cx="338.5" cy="433.8" r="1.5"/><circle cx="348" cy="433.8" r="1.5"/><circle cx="357.5" cy="433.8" r="1.5"/>
 <circle cx="343" cy="466.4" r="1.5"/><circle cx="352.5" cy="466.4" r="1.5"/>
 </g>
 <!-- pump shaft -->
 <g stroke="#666" stroke-width="0.5">
 <rect x="215.5" y="436.6" width="23" height="27.9" fill="url(#gShaft)"/>
 <rect x="238.3" y="430.3" width="51.5" height="39.9" fill="url(#gShaft)"/>
 <rect x="314.6" y="435.2" width="47.4" height="30.2" fill="url(#gShaft)"/>
 <rect x="359.2" y="436.2" width="2.8" height="28.2" fill="#d9d9d9" stroke-width="0.3"/>
 <rect x="289.8" y="426" width="24.8" height="48.5" fill="url(#gShaft)"/>
 </g>
 <!-- motor shaft -->
 <g stroke="#666" stroke-width="0.5">
 <rect x="382.8" y="433" width="49" height="35" fill="url(#gShaft)"/>
 <path d="M383.3,445.2 H423.5 A5,5 0 0 1 423.5,455.3 H383.3 Z" fill="#ededed" stroke-width="0.4"/>
 <rect x="431.6" y="431.3" width="5.9" height="38" fill="url(#gShaft)"/>
 </g>
</g>

<g stroke="#555" stroke-width="0.4">
 <rect x="274.4" y="358.5" width="8.9" height="11.4" rx="1.2" fill="url(#gBoxG)"/>
</g>

<g id="labels" font-family="&quot;Liberation Sans&quot;,sans-serif" font-weight="700" font-size="12.5" text-anchor="middle">
<path d="M44.0,541.5 H63.5 M63.5,541.5 L190,507" stroke="#1a1a1a" stroke-width="1.05" fill="none"/>
<circle cx="52.7" cy="528.8" r="8" fill="#5c8390"/>
<text x="52.7" y="533.25" fill="#fff">1</text>
<path d="M44.0,484.1 H63.5 M63.5,484.1 L243,448.2" stroke="#1a1a1a" stroke-width="1.05" fill="none"/>
<circle cx="52.7" cy="473.9" r="8" fill="#5c8390"/>
<text x="52.7" y="478.34999999999997" fill="#fff">2</text>
<path d="M44.0,437.3 H63.5 M63.5,437.3 L180,447" stroke="#1a1a1a" stroke-width="1.05" fill="none"/>
<circle cx="52.7" cy="426.2" r="8" fill="#5c8390"/>
<text x="52.7" y="430.65" fill="#fff">3</text>
<path d="M44.0,383 H63.5 M63.5,383 L181,418" stroke="#1a1a1a" stroke-width="1.05" fill="none"/>
<circle cx="52.7" cy="371.9" r="8" fill="#5c8390"/>
<text x="52.7" y="376.34999999999997" fill="#fff">4</text>
<path d="M44.0,329.2 H63.5 M63.5,329.2 L193.4,419" stroke="#1a1a1a" stroke-width="1.05" fill="none"/>
<circle cx="52.7" cy="318" r="8" fill="#5c8390"/>
<text x="52.7" y="322.45" fill="#fff">5</text>
<path d="M44.0,273 H63.5 M63.5,273 L202,393" stroke="#1a1a1a" stroke-width="1.05" fill="none"/>
<circle cx="52.7" cy="262.5" r="8" fill="#5c8390"/>
<text x="52.7" y="266.95" fill="#fff">6</text>
<path d="M44.0,217.2 H63.4 M63.4,217.2 L246,427" stroke="#1a1a1a" stroke-width="1.05" fill="none"/>
<circle cx="52.7" cy="207.5" r="8" fill="#5c8390"/>
<text x="52.7" y="211.95" fill="#fff">7</text>
<path d="M113.7,217.1 H136.0 M136.0,217.1 L241.5,375" stroke="#1a1a1a" stroke-width="1.05" fill="none"/>
<circle cx="125.4" cy="207.5" r="8" fill="#5c8390"/>
<text x="125.4" y="211.95" fill="#fff">8</text>
<path d="M180.0,217.1 H203.0 M203.0,217.1 L294,403" stroke="#1a1a1a" stroke-width="1.05" fill="none"/>
<circle cx="192.2" cy="207.5" r="8" fill="#5c8390"/>
<text x="192.2" y="211.95" fill="#fff">9</text>
<path d="M248.5,217.2 H271.6 M271.6,217.2 L310,352.4" stroke="#1a1a1a" stroke-width="1.05" fill="none"/>
<circle cx="259.2" cy="207.5" r="8" fill="#5c8390"/>
<text x="258.55" y="211.95" fill="#fff" letter-spacing="-1.3">10</text>
<path d="M316.4,217.2 H340.1 M316.4,217.2 L334.5,419" stroke="#1a1a1a" stroke-width="1.05" fill="none"/>
<circle cx="326.2" cy="207.5" r="8" fill="#5c8390"/>
<text x="325.55" y="211.95" fill="#fff" letter-spacing="-1.3">11</text>
<path d="M377.4,217.2 H400.9 M377.4,217.2 L351.6,425.4" stroke="#1a1a1a" stroke-width="1.05" fill="none"/>
<circle cx="389.9" cy="207.5" r="8" fill="#5c8390"/>
<text x="389.25" y="211.95" fill="#fff" letter-spacing="-1.3">12</text>
<path d="M431.3,217.2 H456.7 M431.3,217.2 L368.6,421.6" stroke="#1a1a1a" stroke-width="1.05" fill="none"/>
<circle cx="442.7" cy="207.5" r="8" fill="#5c8390"/>
<text x="442.05" y="211.95" fill="#fff" letter-spacing="-1.3">13</text>
<path d="M490.2,217.2 H513.0 M490.2,217.2 L396.5,419" stroke="#1a1a1a" stroke-width="1.05" fill="none"/>
<circle cx="502.3" cy="207.5" r="8" fill="#5c8390"/>
<text x="501.65000000000003" y="211.95" fill="#fff" letter-spacing="-1.3">14</text>
</g>
<g id="wmo" font-family="&quot;Liberation Sans&quot;,&quot;Noto Serif CJK SC&quot;,serif" font-weight="700" text-anchor="middle" style="pointer-events:none" fill="#ffffff" opacity="0.12">
<g><g transform="translate(606,420) rotate(-42)"><text x="0" y="0" font-size="27" letter-spacing="2">上海東瀧</text><text x="4" y="22" font-size="16.5" letter-spacing="0.6">800-820-6570</text></g><path transform="translate(542.4,501.4)" d="M-26,28 L-8,-28 L26,28 Z M-17,22 L-6,-12 L15,22 Z" fill-rule="evenodd"/></g>
<g><g transform="translate(426,420) rotate(-42)"><text x="0" y="0" font-size="27" letter-spacing="2">上海東瀧</text><text x="4" y="22" font-size="16.5" letter-spacing="0.6">800-820-6570</text></g><path transform="translate(362.4,501.4)" d="M-26,28 L-8,-28 L26,28 Z M-17,22 L-6,-12 L15,22 Z" fill-rule="evenodd"/></g>
<g><g transform="translate(246,420) rotate(-42)"><text x="0" y="0" font-size="27" letter-spacing="2">上海東瀧</text><text x="4" y="22" font-size="16.5" letter-spacing="0.6">800-820-6570</text></g><path transform="translate(182.4,501.4)" d="M-26,28 L-8,-28 L26,28 Z M-17,22 L-6,-12 L15,22 Z" fill-rule="evenodd"/></g>
<g><g transform="translate(248,622) rotate(-42)"><text x="0" y="0" font-size="27" letter-spacing="2">上海東瀧</text><text x="4" y="22" font-size="16.5" letter-spacing="0.6">800-820-6570</text></g><path transform="translate(184.4,703.4)" d="M-26,28 L-8,-28 L26,28 Z M-17,22 L-6,-12 L15,22 Z" fill-rule="evenodd"/></g>
<g><g transform="translate(430,622) rotate(-42)"><text x="0" y="0" font-size="27" letter-spacing="2">上海東瀧</text><text x="4" y="22" font-size="16.5" letter-spacing="0.6">800-820-6570</text></g><path transform="translate(366.4,703.4)" d="M-26,28 L-8,-28 L26,28 Z M-17,22 L-6,-12 L15,22 Z" fill-rule="evenodd"/></g>
<g><g transform="translate(610,622) rotate(-42)"><text x="0" y="0" font-size="27" letter-spacing="2">上海東瀧</text><text x="4" y="22" font-size="16.5" letter-spacing="0.6">800-820-6570</text></g><path transform="translate(546.4,703.4)" d="M-26,28 L-8,-28 L26,28 Z M-17,22 L-6,-12 L15,22 Z" fill-rule="evenodd"/></g>
</g>

</svg>
<div class="tb">
<div class="row" style="left:49.7px;top:694.4px"><span class="n">1</span><div class="c c1">泵体</div><div class="c c2">HT200+FEP</div></div>
<div class="row" style="left:49.7px;top:731.1px"><span class="n">2</span><div class="c c1">泵轴</div><div class="c c2">SIC</div></div>
<div class="row" style="left:49.7px;top:767.8px"><span class="n">3</span><div class="c c1">叶轮螺母</div><div class="c c2">FEP</div></div>
<div class="row" style="left:49.7px;top:804.5px"><span class="n">4</span><div class="c c1">泵壳静环</div><div class="c c2">氧化铝陶瓷</div></div>
<div class="row" style="left:49.7px;top:841.2px"><span class="n">5</span><div class="c c1">叶轮口环</div><div class="c c2">填充聚四氟乙烯</div></div>
<div class="row" style="left:302.7px;top:694.4px"><span class="n">6</span><div class="c c1">叶轮</div><div class="c c2">45#+FEP</div></div>
<div class="row" style="left:302.7px;top:731.1px"><span class="n">7</span><div class="c c1">中轴座轴承</div><div class="c c2">填充聚四氟乙烯</div></div>
<div class="row" style="left:302.7px;top:767.8px"><span class="n">8</span><div class="c c1">中轴座</div><div class="c c2">HT200+FEP</div></div>
<div class="row" style="left:302.7px;top:804.5px"><span class="n">9</span><div class="c c1">内磁总成</div><div class="c c2">45#+钕铁硼+FEP</div></div>
<div class="row" style="left:302.7px;top:841.2px"><span class="n">10</span><div class="c c1">支架</div><div class="c c2">HT200</div></div>
<div class="row" style="left:555.7px;top:694.4px"><span class="n">11</span><div class="c c1">隔离套轴承</div><div class="c c2">填充聚四氟乙烯</div></div>
<div class="row" style="left:555.7px;top:731.1px"><span class="n">12</span><div class="c c1">隔离套</div><div class="c c2">FEP</div></div>
<div class="row" style="left:555.7px;top:767.8px"><span class="n">13</span><div class="c c1">加固套</div><div class="c c2">增强碳纤维</div></div>
<div class="row" style="left:555.7px;top:804.5px"><span class="n">14</span><div class="c c1">外磁总成</div><div class="c c2">HT200+钕铁硼</div></div>
</div>
</body>
</html>
